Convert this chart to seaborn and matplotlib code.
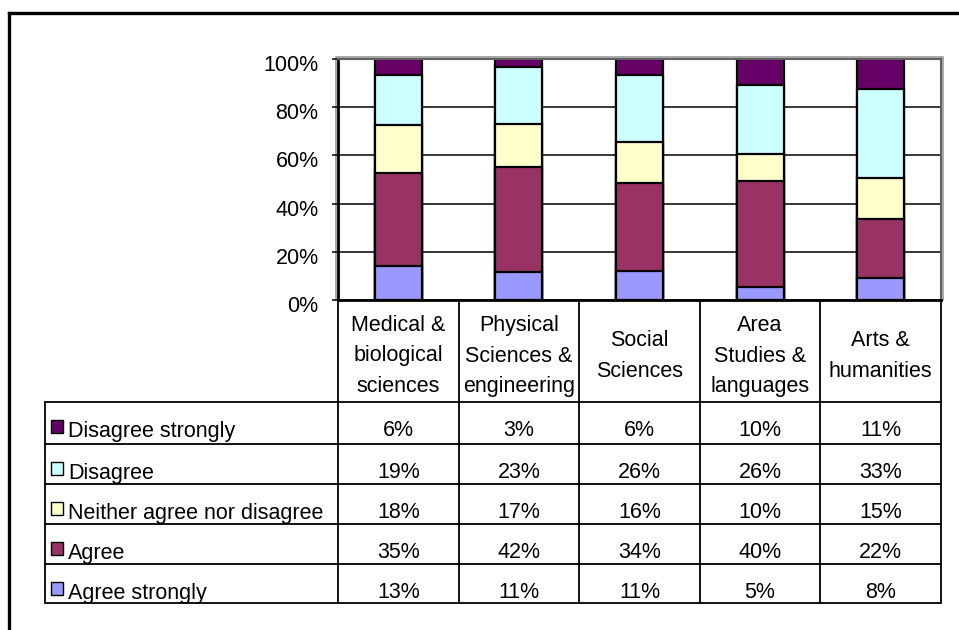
import numpy as np
import pandas as pd
import matplotlib
matplotlib.use("Agg")
import matplotlib.pyplot as plt
import matplotlib.transforms as mtransforms
from matplotlib.patches import Rectangle
import seaborn as sns

# ---------------- data ----------------
categories = ["Medical &\nbiological\nsciences",
              "Physical\nSciences &\nengineering",
              "Social\nSciences",
              "Area\nStudies &\nlanguages",
              "Arts &\nhumanities"]
series = ["Agree strongly", "Agree", "Neither agree nor disagree",
          "Disagree", "Disagree strongly"]
agree_strongly = [13, 11, 11, 5, 8]
agree = [35, 42, 34, 40, 22]
neither = [18, 17, 16, 10, 15]
disagree = [19, 23, 26, 26, 33]
disagree_strongly = [6, 3, 6, 10, 11]
colors = ["#9999FF", "#993366", "#FFFFCC", "#CCFFFF", "#660066"]
y_ticks = [0, 20, 40, 60, 80, 100]
y_tick_labels = ["0%", "20%", "40%", "60%", "80%", "100%"]

values = [agree_strongly, agree, neither, disagree, disagree_strongly]
df = pd.DataFrame(np.array(values).T, columns=series)
df.insert(0, "category", categories)

# 100% stacked: normalise each category
totals = df[series].sum(axis=1)
pct = df[series].div(totals, axis=0) * 100
cum = pct.cumsum(axis=1)

# ---------------- figure ----------------
sns.set_style("white")
plt.rcParams["font.family"] = ["Liberation Sans", "DejaVu Sans"]
plt.rcParams["text.color"] = "black"
plt.rcParams["ytick.color"] = "black"
plt.rcParams["ytick.labelcolor"] = "black"
FS = 15.5

W, H = 959, 630
fig = plt.figure(figsize=(W / 100, H / 100), dpi=100)

def fx(px):
    return px / W

def fy(py):
    return 1 - py / H

# overlay for table / frame (pixel coordinates)
ov = fig.add_axes([0, 0, 1, 1], zorder=0)
ov.set_xlim(0, W)
ov.set_ylim(H, 0)
ov.axis("off")

# outer chart frame (left & top visible)
ov.plot([9, 9], [H, 13], color="black", lw=2.4, solid_capstyle="projecting")
ov.plot([9, W], [13, 13], color="black", lw=2.4, solid_capstyle="projecting")

left_px, right_px, top_px, bot_px = 338, 941, 59, 300
# faint 3D shadow of plot area
ov.plot([left_px - 2, left_px - 2, right_px + 2, right_px + 2],
        [bot_px, top_px - 2, top_px - 2, bot_px],
        color="#9a9a9a", lw=1.2)

ax = fig.add_axes([fx(left_px), fy(bot_px), fx(right_px - left_px),
                   (bot_px - top_px) / H], zorder=1)

# grid
for t in y_ticks:
    ax.axhline(t, color="black", lw=1.1, zorder=0)

# stacked bars (draw from top of stack down)
plot_df = cum.copy()
plot_df["category"] = categories
for s, c in reversed(list(zip(series, colors))):
    sns.barplot(data=plot_df, x="category", y=s, color=c, saturation=1,
                width=0.39, edgecolor="black", linewidth=1.6, ax=ax, zorder=2)

ax.set_ylim(0, 100)
ax.set_xlim(-0.5, len(categories) - 0.5)
ax.set_xticks([])
ax.set_xlabel("")
ax.set_ylabel("")
ax.set_yticks(y_ticks)
ax.set_yticklabels(y_tick_labels, fontsize=FS, color="black")
ax.tick_params(axis="y", left=True, length=4, width=1.1, pad=10, color="black")
shift = mtransforms.ScaledTranslation(0, -4 / 100, fig.dpi_scale_trans)
for lab in ax.get_yticklabels():
    lab.set_transform(lab.get_transform() + shift)
for side in ["left", "bottom"]:
    ax.spines[side].set_color("black")
    ax.spines[side].set_linewidth(2)
for side in ["top", "right"]:
    ax.spines[side].set_color("#606060")
    ax.spines[side].set_linewidth(1.5)

# ---------------- data table ----------------
col_edges = np.linspace(left_px, right_px, len(categories) + 1)
col_centers = (col_edges[:-1] + col_edges[1:]) / 2
row_edges = [402, 444, 484, 524, 564, 603]
tbl_left = 45
lw_t = 1.3

for x in col_edges:
    ov.plot([x, x], [bot_px + 1, row_edges[-1]], color="black", lw=lw_t)
for y in row_edges:
    ov.plot([tbl_left, right_px], [y, y], color="black", lw=lw_t)
ov.plot([tbl_left, tbl_left], [row_edges[0], row_edges[-1]], color="black", lw=lw_t)

# header labels
for xc, lab in zip(col_centers, categories):
    ov.text(xc, (bot_px + row_edges[0]) / 2 + 5, lab, ha="center", va="center",
            fontsize=FS, linespacing=1.62, multialignment="center", color="black")

# rows (top row = last series)
for i, s_idx in enumerate(reversed(range(len(series)))):
    top = row_edges[i]
    ov.add_patch(Rectangle((51, top + 18), 12, 13, facecolor=colors[s_idx],
                           edgecolor="black", lw=1.0))
    ov.text(68, top + 35, series[s_idx], ha="left", va="baseline", fontsize=FS,
            color="black")
    for xc, v in zip(col_centers, values[s_idx]):
        ov.text(xc, top + 34, f"{v}%", ha="center", va="baseline", fontsize=FS,
                color="black")

fig.savefig("out.png", dpi=100)
